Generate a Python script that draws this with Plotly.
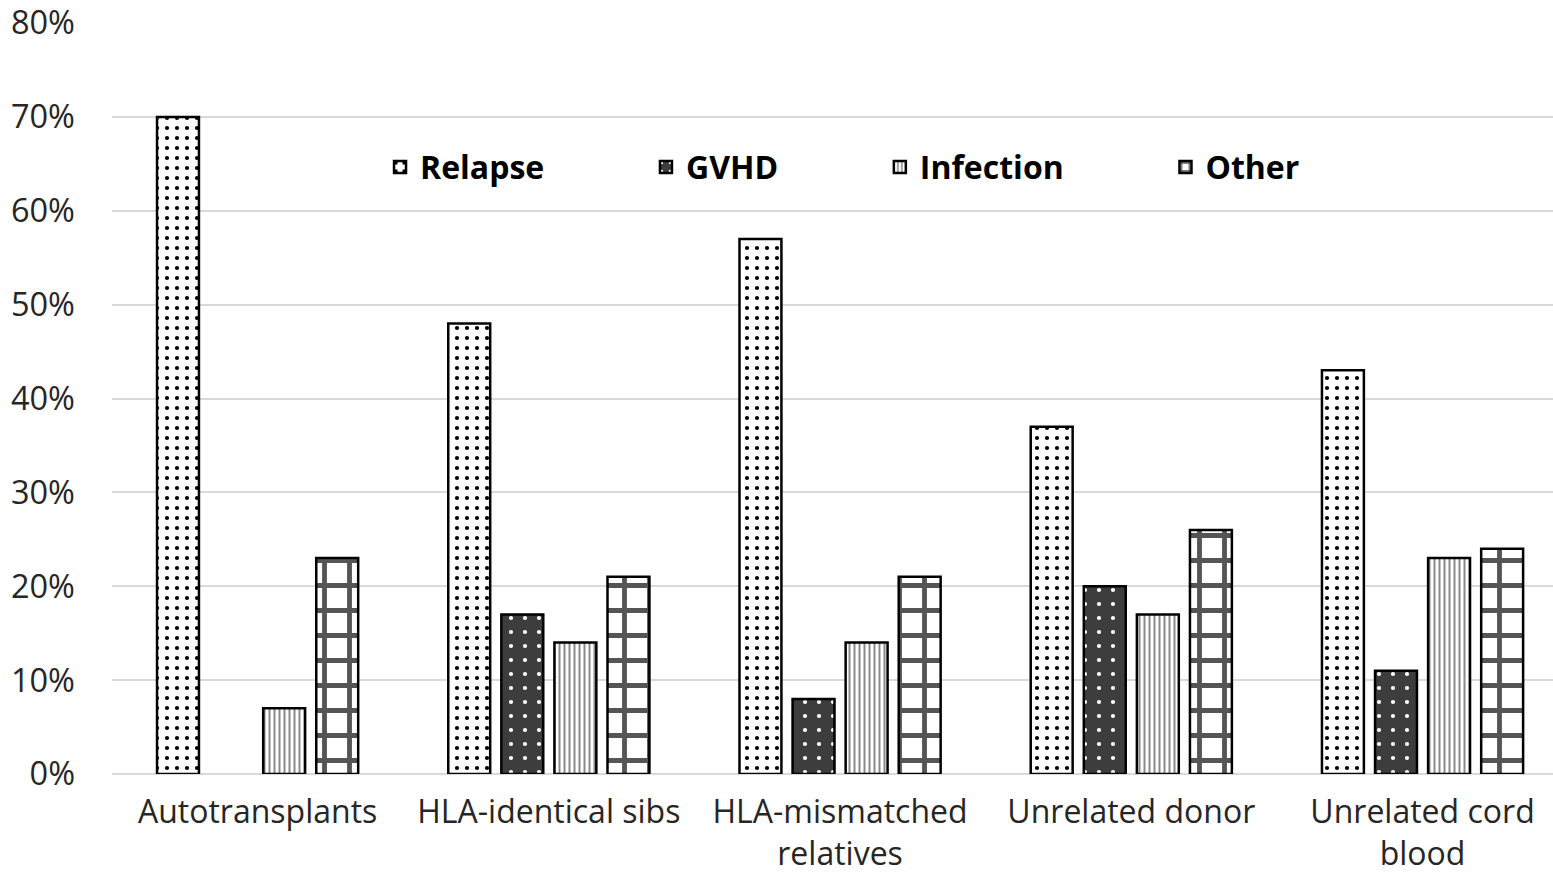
import plotly.graph_objects as go

categories = ["Autotransplants", "HLA-identical sibs", "HLA-mismatched<br>relatives",
              "Unrelated donor", "Unrelated cord<br>blood"]
relapse = [70, 48, 57, 37, 43]
gvhd = [None, 17, 8, 20, 11]
infection = [7, 14, 14, 17, 23]
other = [23, 21, 21, 26, 24]
y_ticks = [0, 10, 20, 30, 40, 50, 60, 70, 80]
y_tick_labels = ["0%", "10%", "20%", "30%", "40%", "50%", "60%", "70%", "80%"]

pad = "\u2009" + "\u00a0" * 11

fig = go.Figure()
fig.add_trace(go.Bar(
    x=categories, y=relapse, name="Relapse" + pad,
    marker=dict(color="white", line=dict(color="black", width=2.5),
                pattern=dict(shape=".", fgcolor="black", bgcolor="white", size=10, solidity=0.14, fillmode="replace")),
))
fig.add_trace(go.Bar(
    x=categories, y=gvhd, name="GVHD" + pad,
    marker=dict(color="#3d3d3d", line=dict(color="black", width=2.5),
                pattern=dict(shape=".", fgcolor="white", bgcolor="#3d3d3d", size=14, solidity=0.07, fillmode="replace")),
))
fig.add_trace(go.Bar(
    x=categories, y=infection, name="Infection" + pad,
    marker=dict(color="white", line=dict(color="black", width=2.5),
                pattern=dict(shape="|", fgcolor="#8a8a8a", bgcolor="white", size=5, solidity=0.4, fillmode="replace")),
))
fig.add_trace(go.Bar(
    x=categories, y=other, name="Other",
    marker=dict(color="white", line=dict(color="black", width=2.5),
                pattern=dict(shape="+", fgcolor="#555555", bgcolor="white", size=25, solidity=0.35, fillmode="replace")),
))

fig.update_layout(
    width=1553, height=876,
    margin=dict(l=112, r=0, t=23, b=102),
    paper_bgcolor="white", plot_bgcolor="white",
    barmode="group", bargap=0.271, bargroupgap=0.21,
    font=dict(family="Open Sans", color="#262626", size=32.5),
    showlegend=True,
    legend=dict(orientation="h", x=0.186, xanchor="left", y=0.808, yanchor="middle",
                font=dict(family="Open Sans", size=32, color="black", weight="bold"),
                bgcolor="rgba(0,0,0,0)", traceorder="normal"),
    xaxis=dict(range=[-0.5, 4.448], showgrid=False, showline=False, ticks="",
               ticklabelstandoff=16, automargin=False,
               tickfont=dict(size=32, color="#262626")),
    yaxis=dict(range=[0, 80], tickmode="array", tickvals=y_ticks, ticktext=y_tick_labels,
               showgrid=True, automargin=False, ticklabeloverflow="allow",
               gridcolor="#d9d9d9", gridwidth=2, zeroline=True, zerolinecolor="#d9d9d9",
               zerolinewidth=2, showline=False, ticks="", ticklabelstandoff=36,
               tickfont=dict(size=32.5, color="#262626")),
)

fig.write_html("out.html")
